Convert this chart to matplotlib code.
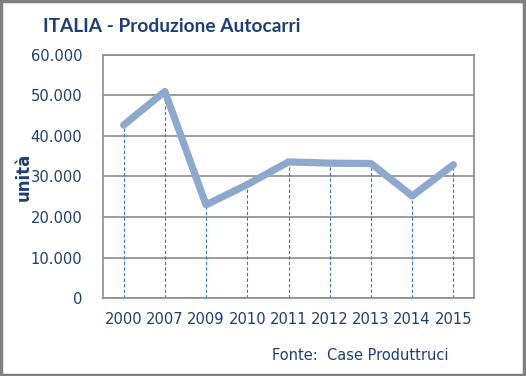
import matplotlib.pyplot as plt
from matplotlib.ticker import FuncFormatter

# dati
anni = ["2000", "2007", "2009", "2010", "2011", "2012", "2013", "2014", "2015"]
unita = [42700, 51000, 23000, 28000, 33600, 33300, 33200, 25200, 32900]

blu_testo = "#1F3F73"
blu_linea = "#8EA8CE"
blu_drop = "#3A72C4"

fig = plt.figure(figsize=(5.26, 3.76), dpi=100)
fig.patch.set_facecolor("white")
# cornice esterna grigia
fig.patches.append(plt.Rectangle((0.002, 0.003), 0.995, 0.994, transform=fig.transFigure,
                                 fill=False, edgecolor="#808080", linewidth=2.5))

ax = fig.add_axes([103 / 526, 1 - 298 / 376, (474 - 103) / 526, (298 - 55) / 376])
x = range(len(anni))

ax.vlines(x, 0, unita, colors=blu_drop, linestyles=(0, (3, 2)), linewidth=0.8, zorder=2)
ax.plot(x, unita, color=blu_linea, linewidth=5.2, solid_capstyle="round",
        solid_joinstyle="round", zorder=3)

ax.set_xlim(-0.5, len(anni) - 0.5)
ax.set_ylim(0, 60000)
ax.set_yticks(range(0, 60001, 10000))
ax.yaxis.set_major_formatter(FuncFormatter(lambda v, p: "0" if v == 0 else f"{int(v):,}".replace(",", ".")))
ax.set_xticks(list(x))
ax.set_xticklabels(anni)
ax.grid(axis="y", color="#8C8C8C", linewidth=1.2)
ax.set_axisbelow(True)
for s in ax.spines.values():
    s.set_color("#8C8C8C")
    s.set_linewidth(1.2)
ax.tick_params(length=0, labelsize=11.8, labelcolor=blu_testo)
for lab in ax.get_xticklabels() + ax.get_yticklabels():
    lab.set_fontfamily("DejaVu Sans")
    lab.set_fontstretch("condensed")
ax.tick_params(axis="y", pad=15)
ax.tick_params(axis="x", pad=10)

fig.text(43 / 526, 1 - 27 / 376, "ITALIA - Produzione Autocarri", fontsize=13.8,
         fontweight="bold", family="Lato", color=blu_testo, va="center", ha="left")
fig.text(24 / 526, 1 - 177 / 376, "unità", fontsize=12, fontweight="bold",
         color=blu_testo, rotation=90, va="center", ha="center")
fig.text(272 / 526, 1 - 355 / 376, "Fonte:  Case Produttruci", fontsize=10.5,
         color=blu_testo, va="center", ha="left")

fig.savefig("out.png", dpi=100)
